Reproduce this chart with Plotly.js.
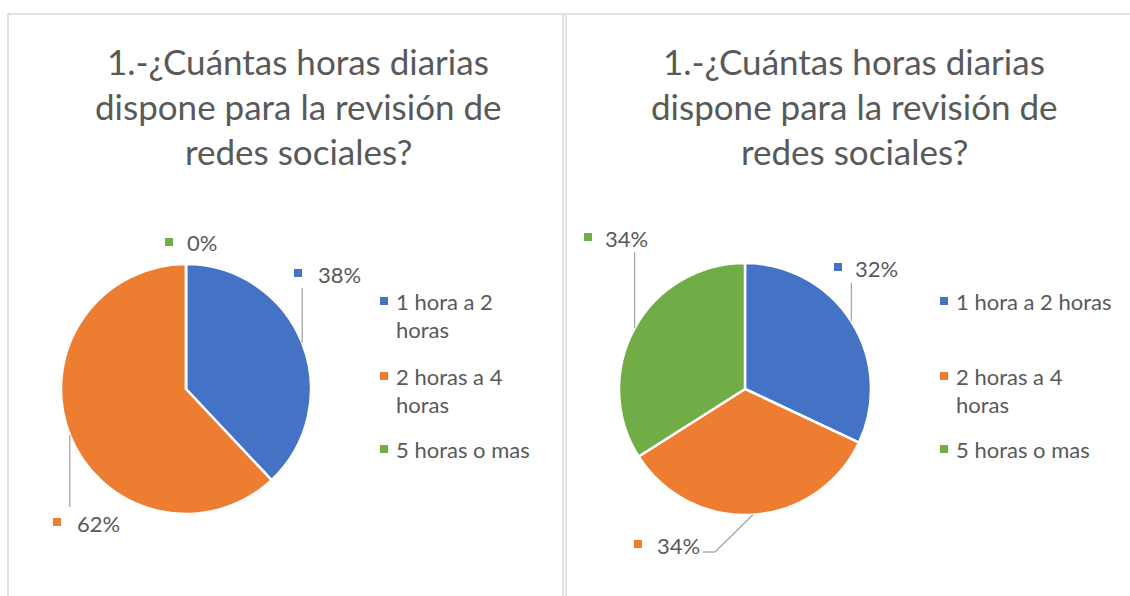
<!DOCTYPE html>
<html>
<head>
<meta charset="utf-8">
<script src="https://cdn.plot.ly/plotly-3.0.1.min.js"></script>
<style>
  html, body { margin: 0; padding: 0; background: #ffffff; }
  #chart { width: 1130px; height: 596px; }
</style>
</head>
<body>
<div id="chart"></div>
<script>
// data
const categories = ['1 hora a 2 horas', '2 horas a 4 horas', '5 horas o mas'];
const leftValues = [38, 62, 0];
const rightValues = [32, 34, 34];
const titleLines = ['1.-¿Cuántas horas diarias', 'dispone para la revisión de', 'redes sociales?'];
// how each legend wraps its category names
const leftLegendLines = [['1 hora a 2', 'horas'], ['2 horas a 4', 'horas'], ['5 horas o mas']];
const rightLegendLines = [['1 hora a 2 horas'], ['2 horas a 4', 'horas'], ['5 horas o mas']];

const colors = ['#4472C4', '#ED7D31', '#70AD47'];
const W = 1130, H = 596;
const FONT = 'Lato, "Open Sans", sans-serif';
const TXT = '#595959';

const px = x => x / W;
const py = y => 1 - y / H;

// pie geometry in pixels (center + radius)
const pies = [
  { cx: 186, cy: 389, r: 125, values: leftValues, legendLines: leftLegendLines,
    titleX: 298, legendX: 384,
    // label spots: marker position, text start, leader start
    labels: [
      { mx: 298, my: 273, tx: 316, lead: 'v', ly: 288 },
      { mx: 57,  my: 522, tx: 75,  lead: 'v', ly: 507 },
      { mx: 169, my: 242, tx: 185, lead: null }
    ] },
  { cx: 745, cy: 389, r: 126, values: rightValues, legendLines: rightLegendLines,
    titleX: 854, legendX: 944,
    labels: [
      { mx: 838, my: 267, tx: 853, lead: 'v', ly: 283 },
      { mx: 638, my: 544, tx: 655, lead: 'elbow', lx: 703, ly: 552, ex: 715 },
      { mx: 588, my: 237, tx: 603, lead: 'v', ly: 252 }
    ] }
];

const traces = pies.map(p => ({
  type: 'pie',
  labels: categories,
  values: p.values,
  sort: false,
  direction: 'clockwise',
  rotation: 0,
  textinfo: 'none',
  hoverinfo: 'label+percent',
  showlegend: false,
  marker: { colors: colors, line: { color: '#ffffff', width: 2.5 } },
  domain: { x: [px(p.cx - p.r), px(p.cx + p.r)], y: [py(p.cy + p.r), py(p.cy - p.r)] }
}));

const annotations = [];
const shapes = [];

// panel borders
const border = { type: 'line', xref: 'paper', yref: 'paper', line: { color: '#D9D9D9', width: 1.5 } };
shapes.push(Object.assign({}, border, { x0: px(8), x1: px(1130), y0: py(14), y1: py(14) }));
shapes.push(Object.assign({}, border, { x0: px(8), x1: px(8), y0: py(14), y1: 0 }));
shapes.push(Object.assign({}, border, { x0: px(563), x1: px(563), y0: py(14), y1: 0 }));
shapes.push(Object.assign({}, border, { x0: px(566), x1: px(566), y0: py(14), y1: 0 }));

function sq(cx, cy, color, s) {
  shapes.push({ type: 'rect', xref: 'paper', yref: 'paper',
    x0: px(cx - s / 2), x1: px(cx + s / 2), y0: py(cy + s / 2), y1: py(cy - s / 2),
    fillcolor: color, line: { width: 0 } });
}
function txt(x, y, text, size, anchor) {
  annotations.push({ xref: 'paper', yref: 'paper', x: px(x), y: py(y), text: text,
    showarrow: false, xanchor: anchor || 'left', yanchor: 'middle',
    font: { family: FONT, size: size, color: TXT } });
}
function line(x0, y0, x1, y1) {
  shapes.push({ type: 'line', xref: 'paper', yref: 'paper',
    x0: px(x0), y0: py(y0), x1: px(x1), y1: py(y1),
    line: { color: '#A6A6A6', width: 1.3 } });
}

const legendRows = [[301, 329], [376, 404], [449]];

pies.forEach(p => {
  // title, one annotation per line
  titleLines.forEach((t, i) => txt(p.titleX, 61 + i * 45, t, 35, 'center'));

  // legend
  p.legendLines.forEach((lines, i) => {
    sq(p.legendX, legendRows[i][0], colors[i], 8);
    lines.forEach((l, j) => txt(p.legendX + 10, legendRows[i][j], l, 22));
  });

  // data labels with leader lines
  const total = p.values.reduce((a, b) => a + b, 0);
  let acc = 0;
  p.values.forEach((v, i) => {
    const mid = (acc + v / 2) / total * 2 * Math.PI;
    acc += v;
    const ex = p.cx + p.r * Math.sin(mid);
    const ey = p.cy - p.r * Math.cos(mid);
    const lb = p.labels[i];
    sq(lb.mx, lb.my, colors[i], 8);
    txt(lb.tx, lb.my + 1, Math.round(v / total * 100) + '%', 22);
    if (lb.lead === 'v') {
      line(ex, lb.ly, ex, ey);
    } else if (lb.lead === 'elbow') {
      line(lb.lx, lb.ly, lb.ex, lb.ly);
      line(lb.ex, lb.ly, ex, ey);
    }
  });
});

const layout = {
  width: W,
  height: H,
  margin: { l: 0, r: 0, t: 0, b: 0 },
  paper_bgcolor: '#ffffff',
  showlegend: false,
  font: { family: FONT, color: TXT },
  annotations: annotations,
  shapes: shapes
};

Plotly.newPlot('chart', traces, layout, { displayModeBar: false, staticPlot: true });
</script>
</body>
</html>
